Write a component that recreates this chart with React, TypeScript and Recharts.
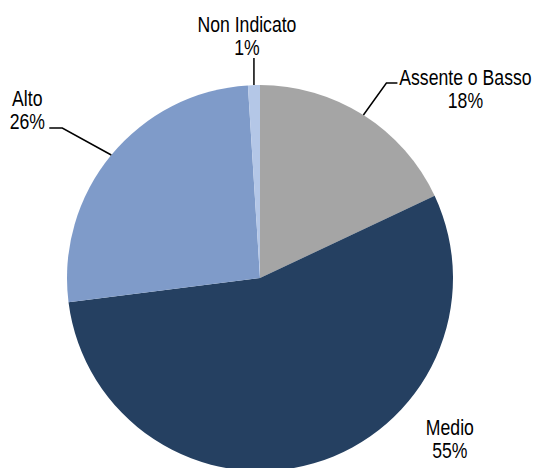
import { PieChart, Pie, Cell } from 'recharts'

const categories = ['Assente o Basso', 'Medio', 'Alto', 'Non Indicato']
const shares = [18, 55, 26, 1]
const sliceColors = ['#A5A5A5', '#254061', '#7F9BC9', '#B4C7E7']

const data = categories.map((name, i) => ({ name, value: shares[i] }))

// no narrow font installed: squeeze Liberation Sans horizontally instead
const FONT = "'Liberation Sans', Arial, sans-serif"
const SQUEEZE = 0.82
const RAD = Math.PI / 180

// leader + text placement relative to the slice's outer edge point
const labelLayout = [
  { leader: [[0, 0], [23, -32], [34, -32]], tx: 102, ty: -30 },
  { leader: [], tx: 136, ty: -28 },
  { leader: [[0, 0], [-49, -27], [-62, -27]], tx: -84, ty: -49 },
  { leader: [[0, 0], [0, -27]], tx: -7, ty: -53 },
]

function SliceLabel(props: any) {
  const { cx, cy, midAngle, outerRadius, index, name, value } = props
  const ex = cx + outerRadius * Math.cos(-midAngle * RAD)
  const ey = cy + outerRadius * Math.sin(-midAngle * RAD)
  const l = labelLayout[index]
  return (
    <g>
      {l.leader.length > 0 && (
        <polyline
          points={l.leader.map(([dx, dy]) => `${ex + dx},${ey + dy}`).join(' ')}
          fill="none"
          stroke="#000"
          strokeWidth={1.5}
        />
      )}
      <g transform={`translate(${ex + l.tx},${ey + l.ty}) scale(${SQUEEZE},1)`}>
        <text x={0} y={0} textAnchor="middle" fill="#000" fontSize={21.5} fontFamily={FONT}>
          <tspan x={0}>{name}</tspan>
          <tspan x={0} dy={23}>{`${value}%`}</tspan>
        </text>
      </g>
    </g>
  )
}

export default function App() {
  return (
    <div style={{ position: 'absolute', top: 0, left: 0, background: '#fff' }}>
      <PieChart width={539} height={468} margin={{ top: 0, right: 0, bottom: 0, left: 0 }}>
        <Pie
          data={data}
          dataKey="value"
          nameKey="name"
          cx={260}
          cy={278}
          outerRadius={193}
          startAngle={90}
          endAngle={-270}
          stroke="none"
          label={SliceLabel}
          labelLine={false}
          isAnimationActive={false}
        >
          {data.map((d, i) => (
            <Cell key={d.name} fill={sliceColors[i]} />
          ))}
        </Pie>
      </PieChart>
    </div>
  )
}
